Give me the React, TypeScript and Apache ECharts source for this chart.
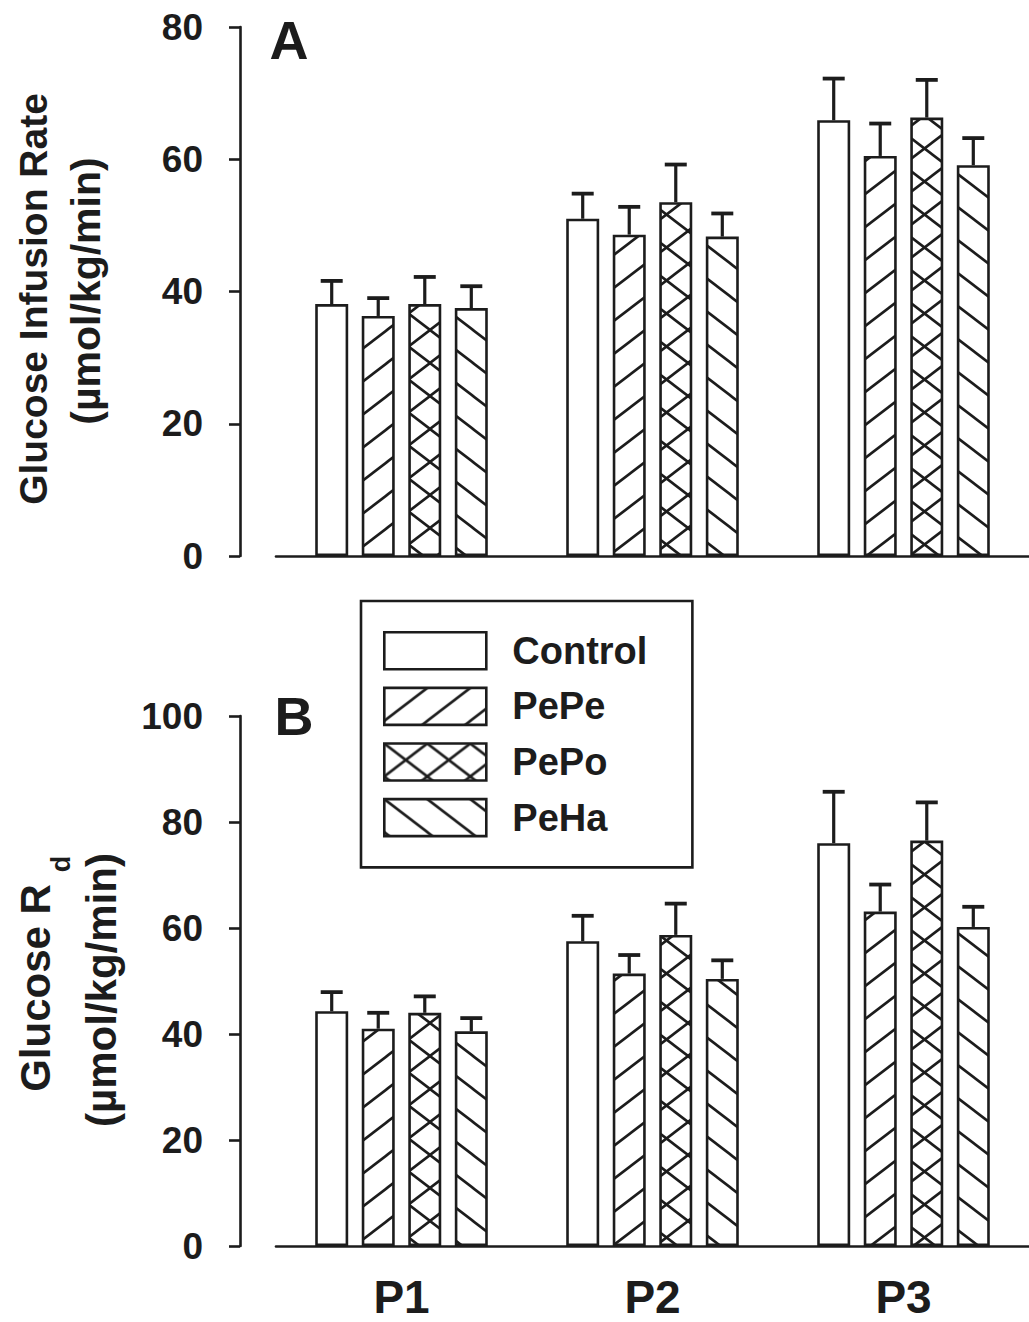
import React, { useEffect, useRef } from 'react';
import * as echarts from 'echarts';

// ---------- data ----------
const categories = ['P1', 'P2', 'P3'];
const seriesNames = ['Control', 'PePe', 'PePo', 'PeHa'];

// Panel A: Glucose Infusion Rate (µmol/kg/min)
const girControl = [38.1, 51.0, 65.9];
const girPePe = [36.3, 48.6, 60.5];
const girPePo = [38.1, 53.5, 66.3];
const girPeHa = [37.5, 48.3, 59.1];
const girControlErr = [3.5, 3.8, 6.3];
const girPePeErr = [2.7, 4.2, 4.9];
const girPePoErr = [4.1, 5.7, 5.7];
const girPeHaErr = [3.3, 3.5, 4.1];

// Panel B: Glucose Rd (µmol/kg/min)
const rdControl = [44.3, 57.5, 76.0];
const rdPePe = [41.0, 51.4, 63.1];
const rdPePo = [44.0, 58.7, 76.5];
const rdPeHa = [40.5, 50.4, 60.2];
const rdControlErr = [3.6, 4.8, 9.7];
const rdPePeErr = [3.0, 3.5, 5.1];
const rdPePoErr = [3.1, 5.9, 7.2];
const rdPeHaErr = [2.5, 3.5, 3.8];

const yTicksA = [0, 20, 40, 60, 80];
const yTicksB = [0, 20, 40, 60, 80, 100];

// ---------- styling ----------
const INK = '#1c1c1c';
const FONT = '"Liberation Sans", Arial, Helvetica, sans-serif';
const BAR_W = 33;
const BAR_GAP = 0.41;
const CAP_W = 22;
const TILE_W = 43;
const TILE_H = 33;

type HatchKind = 'none' | 'fwd' | 'cross' | 'back';
const hatchKinds: HatchKind[] = ['none', 'fwd', 'cross', 'back'];

function makeHatch(kind: HatchKind): any {
  if (kind === 'none') return '#ffffff';
  const c = document.createElement('canvas');
  c.width = TILE_W;
  c.height = TILE_H;
  const ctx = c.getContext('2d')!;
  ctx.fillStyle = '#ffffff';
  ctx.fillRect(0, 0, TILE_W, TILE_H);
  ctx.strokeStyle = INK;
  ctx.lineWidth = 2.6;
  const s = TILE_H / TILE_W;
  const x0 = -TILE_W;
  const x1 = 2 * TILE_W;
  if (kind === 'fwd' || kind === 'cross') {
    for (const cc of [0, TILE_H, 2 * TILE_H]) {
      ctx.beginPath();
      ctx.moveTo(x0, cc - s * x0);
      ctx.lineTo(x1, cc - s * x1);
      ctx.stroke();
    }
  }
  if (kind === 'back' || kind === 'cross') {
    for (const cc of [-TILE_H, 0, TILE_H]) {
      ctx.beginPath();
      ctx.moveTo(x0, cc + s * x0);
      ctx.lineTo(x1, cc + s * x1);
      ctx.stroke();
    }
  }
  return {
    image: c.toDataURL(),
    repeat: 'repeat',
    imageWidth: TILE_W,
    imageHeight: TILE_H,
  };
}

function buildOption() {
  const fills = hatchKinds.map(makeHatch);
  const panelMeans = [
    [girControl, girPePe, girPePo, girPeHa],
    [rdControl, rdPePe, rdPePo, rdPeHa],
  ];
  const panelErrs = [
    [girControlErr, girPePeErr, girPePoErr, girPeHaErr],
    [rdControlErr, rdPePeErr, rdPePoErr, rdPeHaErr],
  ];
  const panelTicks = [yTicksA, yTicksB];

  const series: any[] = [];
  for (let p = 0; p < 2; p++) {
    for (let s = 0; s < 4; s++) {
      series.push({
        type: 'bar',
        name: seriesNames[s],
        xAxisIndex: p,
        yAxisIndex: p,
        data: panelMeans[p][s],
        barWidth: BAR_W,
        barGap: `${BAR_GAP * 100}%`,
        itemStyle: { color: fills[s], borderColor: INK, borderWidth: 2.6 },
        emphasis: { disabled: true },
        z: 2,
      });
    }
    for (let s = 0; s < 4; s++) {
      const pos = s;
      series.push({
        type: 'custom',
        name: seriesNames[s] + ' SEM',
        xAxisIndex: p,
        yAxisIndex: p,
        data: panelMeans[p][s].map((m: number, i: number) => [i, m, m + panelErrs[p][s][i]]),
        silent: true,
        z: 3,
        renderItem: (_params: any, api: any) => {
          const base = api.coord([api.value(0), api.value(1)]);
          const top = api.coord([api.value(0), api.value(2)]);
          const pitch = BAR_W * (1 + BAR_GAP);
          const x = base[0] + (pos - 1.5) * pitch;
          return {
            type: 'group',
            children: [
              {
                type: 'line',
                shape: { x1: x, y1: base[1], x2: x, y2: top[1] },
                style: { stroke: INK, lineWidth: 3.2 },
              },
              {
                type: 'line',
                shape: { x1: x - CAP_W / 2, y1: top[1], x2: x + CAP_W / 2, y2: top[1] },
                style: { stroke: INK, lineWidth: 3.8 },
              },
            ],
          };
        },
      });
    }
  }

  const grids = [
    { left: 276, top: 27, width: 760, height: 529 },
    { left: 276, top: 716, width: 760, height: 530 },
  ];

  const xAxes = [0, 1].map((p) => ({
    type: 'category',
    gridIndex: p,
    data: categories,
    axisLine: { show: true, lineStyle: { color: INK, width: 2.6 } },
    axisTick: { show: false },
    axisLabel: {
      show: p === 1,
      fontSize: 46,
      fontWeight: 'bold',
      fontFamily: FONT,
      color: INK,
      margin: 28,
    },
    splitLine: { show: false },
  }));

  const yAxes = [0, 1].map((p) => {
    const t = panelTicks[p];
    return {
      type: 'value',
      gridIndex: p,
      min: t[0],
      max: t[t.length - 1],
      interval: t[1] - t[0],
      offset: 36,
      axisLine: { show: true, lineStyle: { color: INK, width: 2.6 } },
      axisTick: { show: true, length: 11, lineStyle: { color: INK, width: 2.6 } },
      axisLabel: {
        fontSize: 37,
        fontWeight: 'bold',
        fontFamily: FONT,
        color: INK,
        margin: 37,
      },
      splitLine: { show: false },
    };
  });

  const titleStyle = (text: string, size: number) => ({
    text,
    fontSize: size,
    fontWeight: 'bold',
    fontFamily: FONT,
    fill: INK,
    align: 'center',
    verticalAlign: 'middle',
  });

  const graphic = [
    { type: 'text', x: 289, y: 40, style: titleStyle('A', 54) },
    { type: 'text', x: 294, y: 716, style: titleStyle('B', 54) },
    { type: 'text', x: 33, y: 299, rotation: Math.PI / 2, style: titleStyle('Glucose Infusion Rate', 39) },
    { type: 'text', x: 86, y: 291, rotation: Math.PI / 2, style: titleStyle('(µmol/kg/min)', 41) },
    { type: 'text', x: 35, y: 988, rotation: Math.PI / 2, style: titleStyle('Glucose R', 42) },
    { type: 'text', x: 61, y: 864, rotation: Math.PI / 2, style: titleStyle('d', 27) },
    { type: 'text', x: 101, y: 990, rotation: Math.PI / 2, style: titleStyle('(µmol/kg/min)', 42) },
  ];

  return {
    animation: false,
    backgroundColor: '#ffffff',
    grid: grids,
    xAxis: xAxes,
    yAxis: yAxes,
    legend: {
      data: seriesNames,
      orient: 'vertical',
      left: 361,
      top: 601,
      padding: [30, 45, 30, 22],
      itemWidth: 102,
      itemHeight: 37,
      itemGap: 16,
      icon: 'rect',
      selectedMode: false,
      borderColor: INK,
      borderWidth: 2.6,
      itemStyle: { borderColor: INK, borderWidth: 2.6 },
      textStyle: {
        fontSize: 38,
        fontWeight: 'bold',
        fontFamily: FONT,
        color: INK,
        lineHeight: 37,
        padding: [0, 0, 0, 21],
      },
    },
    graphic,
    series,
  };
}

export default function App() {
  const ref = useRef<HTMLDivElement>(null);
  useEffect(() => {
    if (!ref.current) return;
    const chart = echarts.init(ref.current, undefined, { renderer: 'svg' });
    chart.setOption(buildOption() as any);
    return () => {
      chart.dispose();
    };
  }, []);
  return (
    <div
      ref={ref}
      style={{ position: 'absolute', left: 0, top: 0, width: 1029, height: 1322, background: '#fff' }}
    />
  );
}
